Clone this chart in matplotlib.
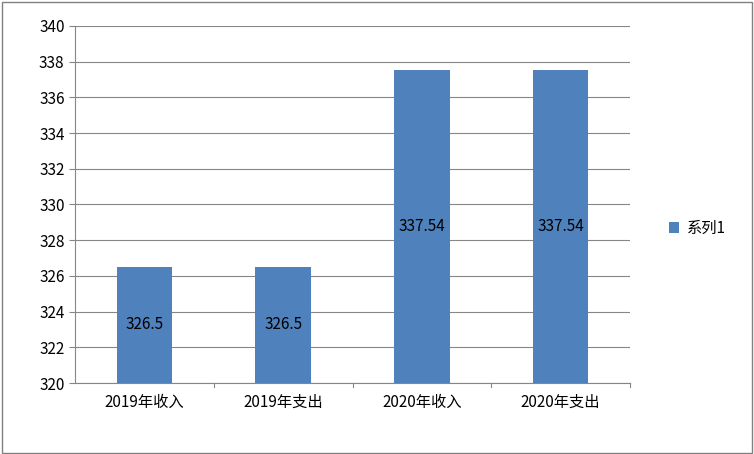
import matplotlib
matplotlib.use("Agg")
import matplotlib.pyplot as plt
from matplotlib.patches import Rectangle

plt.rcParams['font.family'] = ['Noto Sans CJK SC', 'DejaVu Sans']

categories = ["2019年收入", "2019年支出", "2020年收入", "2020年支出"]
values = [326.5, 326.5, 337.54, 337.54]
labels = ["326.5", "326.5", "337.54", "337.54"]
yticks = list(range(320, 341, 2))

fig = plt.figure(figsize=(7.54, 4.54), dpi=100)
fig.patches.append(Rectangle((0.002, 0.002), 0.996, 0.994, transform=fig.transFigure,
                             fill=False, edgecolor="#808080", linewidth=1))
ax = fig.add_axes([75/754, 1-383/454, 555/754, 357/454])
x = range(len(categories))
bars = ax.bar(x, [v - 320 for v in values], bottom=320, width=0.4, color="#4F81BD", label="系列1", zorder=3)
for i, (v, t) in enumerate(zip(values, labels)):
    ax.text(i, (320 + v) / 2, t, ha="center", va="center", fontsize=11, zorder=4)
ax.set_xlim(-0.5, 3.5)
ax.set_ylim(320, 340)
ax.set_yticks(yticks)
ax.set_xticks(list(x))
ax.set_xticklabels(categories, fontsize=11)
ax.tick_params(axis="y", labelsize=11, length=4, color="#868686")
ax.tick_params(axis="x", length=0, pad=8)
ax.grid(axis="y", color="#868686", linewidth=0.8, zorder=0)
for s in ["top", "right"]:
    ax.spines[s].set_visible(False)
ax.spines["left"].set_color("#868686")
ax.spines["bottom"].set_color("#868686")
# category separator ticks
for b in [0.5, 1.5, 2.5, 3.5]:
    ax.plot([b, b], [320, 319.75], color="#868686", lw=0.8, clip_on=False)
fig.legend(handles=[bars], labels=["系列1"], loc="center left", bbox_to_anchor=(655/754, 1-228/454),
           frameon=False, fontsize=11, handlelength=0.7, handleheight=0.7, handletextpad=0.5)
fig.savefig("out.png", dpi=100)
